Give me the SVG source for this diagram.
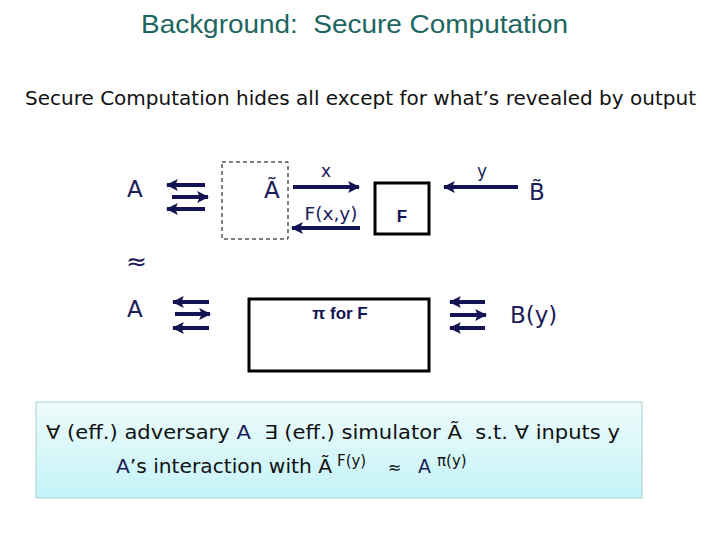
<svg xmlns="http://www.w3.org/2000/svg" width="720" height="540" viewBox="0 0 720 540">
<style>
.t{font-family:"DejaVu Sans","Liberation Sans",sans-serif;fill:#111}
.blue{fill:#1c1c5a}
.arr{stroke:#141454;stroke-width:4;fill:none}
.box{fill:none;stroke:#000;stroke-width:3}
.bold{font-family:"Liberation Sans",Arial,sans-serif;font-weight:bold;fill:#141454}
</style>
<defs>
<marker id="ah" viewBox="0 0 10 10" refX="9" refY="5" markerWidth="3" markerHeight="3" orient="auto" markerUnits="strokeWidth">
<path d="M0,0 L10,5 L0,10 L2,5 Z" fill="#141454"/>
</marker>
<linearGradient id="g" x1="0" y1="0" x2="0" y2="1">
<stop offset="0" stop-color="#eefbfb"/>
<stop offset="1" stop-color="#c4f3f7"/>
</linearGradient>
</defs>
<rect width="720" height="540" fill="#fff"/>
<g id="title">
<text x="141" y="33" font-family="Liberation Sans,Arial,sans-serif" font-size="25" fill="#1d6660" textLength="427" lengthAdjust="spacingAndGlyphs" xml:space="preserve">Background:  Secure Computation</text>
</g>
<g id="subtitle">
<text class="t" x="25" y="105" font-size="20" textLength="671" lengthAdjust="spacingAndGlyphs">Secure Computation hides all except for what’s revealed by output</text>
</g>
<g id="nodeA1"><text class="t blue" x="127" y="197" font-size="23">A</text></g>
<g id="simbox"><rect x="222" y="162" width="66" height="77" fill="none" stroke="#000" stroke-width="1" stroke-dasharray="4,3"/><text class="t blue" x="264" y="198" font-size="23">Ã</text></g>
<g id="F"><rect class="box" x="375" y="183" width="54" height="51"/><text class="bold" x="402" y="222" font-size="17" text-anchor="middle">F</text></g>
<g id="nodeB"><text class="t blue" x="529" y="200" font-size="23">B̃</text></g>
<g id="approx"><text class="t blue" x="126" y="270" font-size="25">≈</text></g>
<g id="nodeA2"><text class="t blue" x="127" y="317" font-size="23">A</text></g>
<g id="protocol"><rect class="box" x="249" y="299" width="180" height="72"/><text class="bold" x="340" y="319" font-size="17" text-anchor="middle">π for F</text></g>
<g id="nodeBy"><text class="t blue" x="510" y="323" font-size="23">B(y)</text></g>
<g id="connectors">
<line class="arr" x1="205" y1="185" x2="167" y2="185" marker-end="url(#ah)"/>
<line class="arr" x1="172" y1="197" x2="208" y2="197" marker-end="url(#ah)"/>
<line class="arr" x1="205" y1="209" x2="167" y2="209" marker-end="url(#ah)"/>
<line class="arr" x1="293" y1="187" x2="359" y2="187" marker-end="url(#ah)"/>
<line class="arr" x1="360" y1="228" x2="292" y2="228" marker-end="url(#ah)"/>
<line class="arr" x1="518" y1="187" x2="444" y2="187" marker-end="url(#ah)"/>
<line class="arr" x1="209" y1="302" x2="173" y2="302" marker-end="url(#ah)"/>
<line class="arr" x1="175" y1="314" x2="210" y2="314" marker-end="url(#ah)"/>
<line class="arr" x1="209" y1="328" x2="173" y2="328" marker-end="url(#ah)"/>
<line class="arr" x1="485" y1="302" x2="450" y2="302" marker-end="url(#ah)"/>
<line class="arr" x1="450" y1="315" x2="486" y2="315" marker-end="url(#ah)"/>
<line class="arr" x1="485" y1="328" x2="450" y2="328" marker-end="url(#ah)"/>
<text class="t blue" x="326" y="177" font-size="17" text-anchor="middle">x</text>
<text class="t blue" x="331" y="220" font-size="17" text-anchor="middle" textLength="53" lengthAdjust="spacingAndGlyphs">F(x,y)</text>
<text class="t blue" x="482" y="177" font-size="17" text-anchor="middle">y</text>
</g>
<g id="statement">
<rect x="36" y="402" width="606" height="96" fill="url(#g)" stroke="#a8d0d0" stroke-width="1"/>
<text class="t" x="46" y="439" font-size="19" fill="#222" textLength="574" lengthAdjust="spacingAndGlyphs" xml:space="preserve">∀ (eff.) adversary <tspan class="blue">A</tspan>  ∃ (eff.) simulator Ã  s.t. ∀ inputs y</text>
<text class="t" x="116" y="473" font-size="19" textLength="216" lengthAdjust="spacingAndGlyphs"><tspan class="blue">A</tspan>’s interaction with Ã</text>
<text class="t" x="337" y="466" font-size="15">F(y)</text>
<text class="t" x="388" y="473" font-size="16">≈</text>
<text class="t blue" x="418" y="473" font-size="19">A</text>
<text class="t" x="437" y="466" font-size="15">π(y)</text>
</g>
</svg>
